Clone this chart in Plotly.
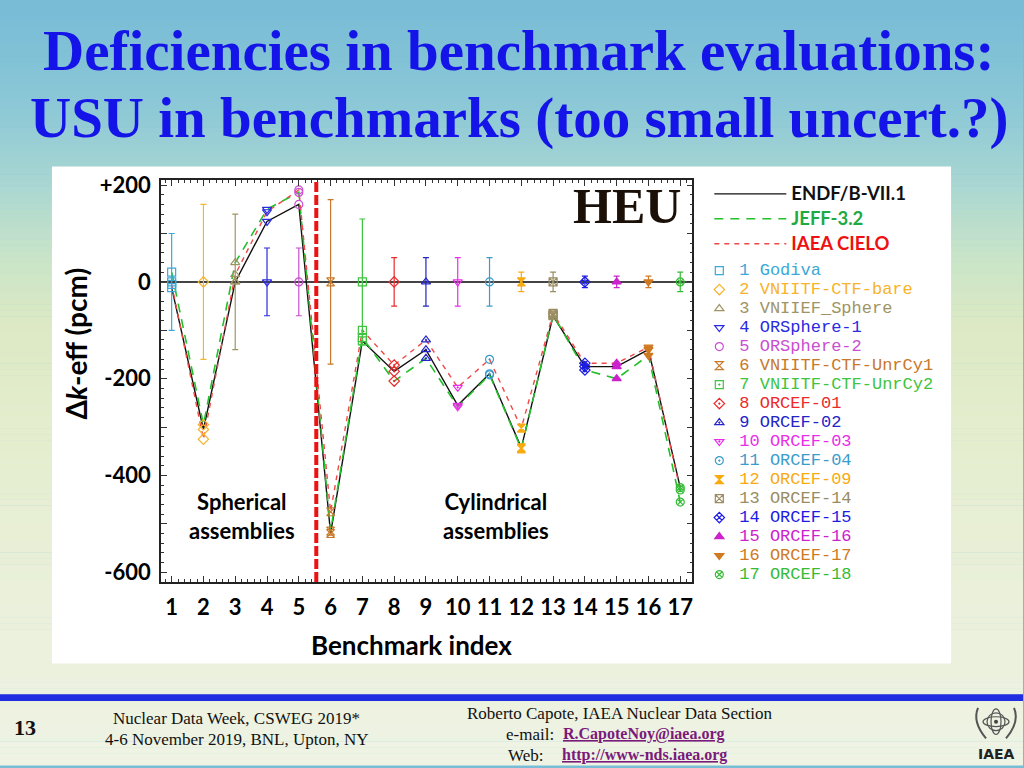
import plotly.graph_objects as go

W, H = 1024, 768

# ---------------- data ----------------
bench_index = list(range(1, 18))
bench_names = ["Godiva", "VNIITF-CTF-bare", "VNIIEF_Sphere", "ORSphere-1", "ORSphere-2",
               "VNIITF-CTF-UnrCy1", "VNIITF-CTF-UnrCy2", "ORCEF-01", "ORCEF-02", "ORCEF-03",
               "ORCEF-04", "ORCEF-09", "ORCEF-14", "ORCEF-15", "ORCEF-16", "ORCEF-17", "ORCEF-18"]
exp_unc = [100, 160, 140, 70, 70, 170, 130, 50, 50, 50, 50, 20, 20, 12, 12, 12, 20]
endf = [-12, -305, 0, 125, 160, -520, -122, -185, -140, -255, -190, -343, -70, -175, -175, -140, -425]
jeff = [20, -295, 40, 150, 185, -515, -115, -205, -158, -258, -192, -345, -68, -182, -200, -152, -455]
cielo = [-5, -325, 15, 145, 190, -475, -100, -172, -120, -218, -160, -302, -65, -168, -168, -135, -430]
bench_colors = ["#3aa8d8", "#f7b32b", "#a09466", "#2a2ae0", "#c94fd0", "#c8782a", "#3ec43e",
                "#ec2a2a", "#2424c8", "#ea2ee8", "#3a9ccc", "#f8aa10", "#9a8c62", "#1c1ce4",
                "#cc22cc", "#cf7a22", "#36bb36"]
bench_symbols = ["square-open", "diamond-open", "triangle-up-open", "triangle-down-open",
                 "circle-open", "hourglass-open", "square-open-dot", "diamond-open-dot",
                 "triangle-up-open-dot", "triangle-down-open-dot", "circle-open-dot", "hourglass",
                 "square-x-open", "diamond-x-open", "triangle-up", "triangle-down", "circle-x-open"]
lib_names = ["ENDF/B-VII.1", "JEFF-3.2", "IAEA CIELO"]
lib_text_colors = ["#111111", "#1faa44", "#ee1111"]
y_tick_vals = [-600, -500, -400, -300, -200, -100, 0, 100, 200]
y_tick_text = ["-600", "", "-400", "", "-200", "", "0", "", "+200"]
x_range = [0.66, 17.38]
y_range = [-620, 210]
separator_x = 5.55

# -------------- helpers ---------------
def px(x):
    return x / W

def py(y):
    return 1 - y / H

fig = go.Figure()

# library curves
lib_vals = [endf, jeff, cielo]
lib_line = [dict(color="#111111", width=1.4),
            dict(color="#22c02a", width=1.6, dash="9px,7px"),
            dict(color="#f04848", width=1.4, dash="5px,5px")]
for name, vals, ln, tc in zip(lib_names, lib_vals, lib_line, lib_text_colors):
    fig.add_trace(go.Scatter(
        x=bench_index, y=vals, mode="lines", line=ln,
        name=f'<span style="font-size:18.5px;color:{tc}">{name}</span>', legend="legend"))

# benchmark markers
for i, (idx, nm, unc, c, s) in enumerate(zip(bench_index, bench_names, exp_unc,
                                               bench_colors, bench_symbols)):
    fig.add_trace(go.Scatter(
        x=[idx], y=[0], mode="markers",
        marker=dict(symbol=s, size=8, color=c, line=dict(color=c, width=1.2)),
        error_y=dict(type="data", array=[unc], visible=True, color=c, thickness=1.2, width=3),
        name=f'<span style="font-size:17px;color:{c}">{idx} {nm}</span>',
        legend="legend2", legendgroup=f"b{idx}"))
    fig.add_trace(go.Scatter(
        x=[idx, idx, idx], y=[endf[i], jeff[i], cielo[i]], mode="markers",
        marker=dict(symbol=s, size=8, color=c, line=dict(color=c, width=1.2)),
        showlegend=False, legendgroup=f"b{idx}"))

# -------------- background -------------
shapes = []
stops = [(0, (120, 188, 214)), (100, (140, 200, 214)), (180, (170, 215, 210)),
         (250, (200, 228, 200)), (320, (220, 233, 196)), (420, (228, 237, 205)),
         (600, (234, 240, 218)), (768, (238, 243, 228))]

def col_at(y):
    for (y0, c0), (y1, c1) in zip(stops[:-1], stops[1:]):
        if y0 <= y <= y1:
            t = (y - y0) / (y1 - y0)
            return "rgb(%d,%d,%d)" % tuple(round(a + (b - a) * t) for a, b in zip(c0, c1))
    return "rgb(238,243,228)"

step = 6
for y0 in range(-12, H, step):
    shapes.append(dict(type="rect", xref="paper", yref="paper", x0=0, x1=1,
                       y0=py(y0 + step + 0.5), y1=py(y0), fillcolor=col_at(max(y0, 0) + step / 2),
                       line=dict(width=0), layer="below"))
# white chart panel
shapes.append(dict(type="rect", xref="paper", yref="paper", x0=px(52), x1=px(952),
                   y0=py(665), y1=py(160), fillcolor="white", line=dict(width=0), layer="below"))
# footer blue bar
shapes.append(dict(type="rect", xref="paper", yref="paper", x0=0, x1=1,
                   y0=py(703), y1=py(696), fillcolor="#1e2ee0", line=dict(width=0), layer="below"))
# separator
shapes.append(dict(type="line", xref="x", yref="y domain", x0=separator_x, x1=separator_x,
                   y0=0, y1=1, line=dict(color="#ee1111", width=4, dash="10px,3px")))
# IAEA emblem approximation
cx, cy = 997, 724
for rx, ry in [(13, 5), (5, 13), (9, 9)]:
    shapes.append(dict(type="circle", xref="paper", yref="paper",
                       x0=px(cx - rx), x1=px(cx + rx), y0=py(cy + ry), y1=py(cy - ry),
                       line=dict(color="#555555", width=1.2)))
shapes.append(dict(type="circle", xref="paper", yref="paper", x0=px(cx - 2), x1=px(cx + 2),
                   y0=py(cy + 2), y1=py(cy - 2), fillcolor="#444444", line=dict(width=0)))
for side in (-1, 1):
    shapes.append(dict(type="path", xref="paper", yref="paper",
                       path=f"M {px(cx + side*18)},{py(cy - 14)} Q {px(cx + side*24)},{py(cy)} {px(cx + side*10)},{py(cy + 17)}",
                       line=dict(color="#555555", width=2)))

# -------------- annotations ------------
ann = []

def text(x, y, t, size, color="black", family="Lato", weight="bold", xanchor="center",
         yanchor="middle", angle=0):
    ann.append(dict(x=px(x), y=py(y), xref="paper", yref="paper", text=t, showarrow=False,
                    xanchor=xanchor, yanchor=yanchor, textangle=angle,
                    font=dict(size=size, color=color, family=family, weight=weight)))

title_color = "#1414e8"
text(520, 42, "Deficiencies in benchmark evaluations:", 57, title_color, "Liberation Serif")
text(520, 111, "USU in benchmarks (too small uncert.?)", 57, title_color, "Liberation Serif")
text(628, 200, "HEU", 50, "#1a1008", "Liberation Serif")
text(242, 515, "Spherical<br>assemblies", 22)
text(496, 515, "Cylindrical<br>assemblies", 22)
text(412, 646, "Benchmark index", 26)
text(76, 340, "Δ<i>k</i>-eff (pcm)", 28, angle=-90)
# footer
text(25, 730, "13", 22, "#111111", "Liberation Serif")
text(237, 721, "Nuclear Data Week, CSWEG 2019*", 17, "#111111", "Liberation Serif", "normal")
text(237, 742, "4-6 November 2019, BNL, Upton, NY", 17, "#111111", "Liberation Serif", "normal")
text(620, 716, "Roberto Capote, IAEA Nuclear Data Section", 17, "#111111", "Liberation Serif", "normal")
text(557, 737, "e-mail:", 17, "#111111", "Liberation Serif", "normal", xanchor="right")
text(562, 737, "<u>R.CapoteNoy@iaea.org</u>", 16, "#7a1a7a", "Liberation Serif", "bold", xanchor="left")
text(546, 758, "Web:", 17, "#111111", "Liberation Serif", "normal", xanchor="right")
text(561, 758, "<u>http://www-nds.iaea.org</u>", 16, "#7a1a7a", "Liberation Serif", "bold", xanchor="left")
text(997, 757, "IAEA", 14, "#222222", "DejaVu Sans", "bold")

# -------------- layout ----------------
axis_common = dict(showline=True, linecolor="#222222", linewidth=1.5, mirror="allticks",
                   ticks="inside", tickcolor="#333333", showgrid=False,
                   tickfont=dict(family="Lato", size=22, color="black", weight="bold"))
fig.update_layout(
    width=W, height=H, margin=dict(l=0, r=0, t=0, b=0),
    paper_bgcolor="rgb(120,188,214)", plot_bgcolor="white",
    shapes=shapes, annotations=ann,
    xaxis=dict(domain=[px(161), px(693)], range=x_range, tickmode="array",
               tickvals=bench_index, ticktext=[str(v) for v in bench_index], ticklen=6,
               ticklabelstandoff=5,
               minor=dict(dtick=0.2, tick0=0, ticklen=3, ticks="inside", tickcolor="#333333"),
               zeroline=False, **axis_common),
    yaxis=dict(domain=[py(582), py(174)], range=y_range, tickmode="array",
               tickvals=y_tick_vals, ticktext=y_tick_text, ticklen=6, ticklabelstandoff=4,
               minor=dict(dtick=20, tick0=0, ticklen=3, ticks="inside", tickcolor="#333333"),
               zeroline=True, zerolinecolor="#444444", zerolinewidth=1.5, **axis_common),
    legend=dict(x=px(710), y=py(170), xanchor="left", yanchor="top", bgcolor="rgba(0,0,0,0)",
                itemwidth=72, tracegroupgap=0,
                font=dict(family="Lato", size=16.9, color="black", weight="bold")),
    legend2=dict(x=px(700), y=py(251), xanchor="left", yanchor="top", bgcolor="rgba(0,0,0,0)",
                 tracegroupgap=0, itemclick=False,
                 font=dict(family="Liberation Mono", size=11.45, color="black")),
    showlegend=True,
)

fig.write_html("out.html", config={"displayModeBar": False},
               post_script="document.body.style.margin='0';document.body.style.overflow='hidden';"
                           "document.body.style.background='rgb(120,188,214)';")
